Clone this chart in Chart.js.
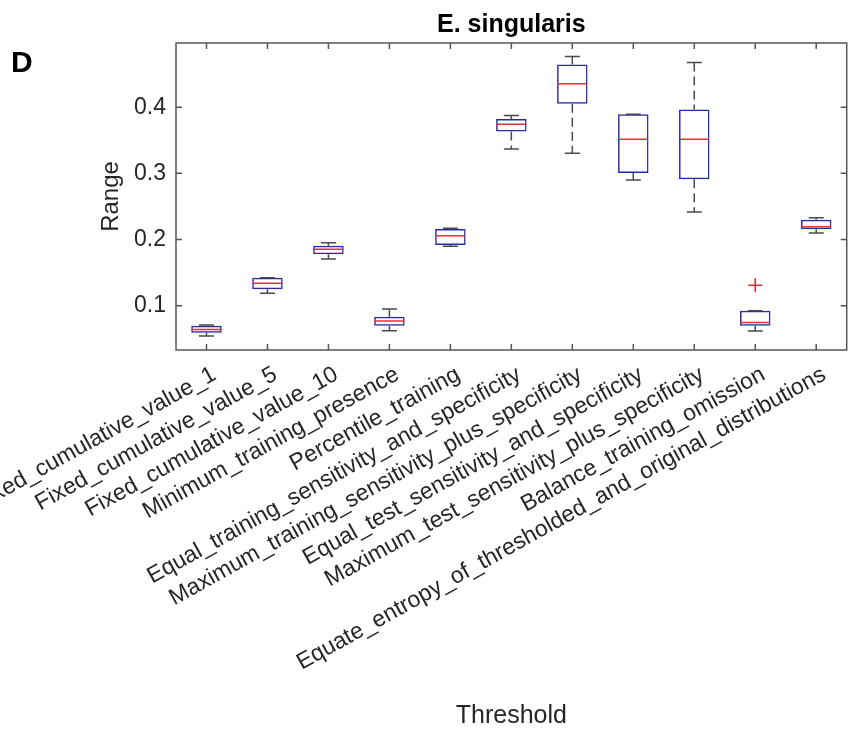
<!DOCTYPE html>
<html>
<head>
<meta charset="utf-8">
<script src="https://cdn.jsdelivr.net/npm/chart.js@4.4.1/dist/chart.umd.min.js"></script>
<style>
html,body{margin:0;padding:0;background:#fff;overflow:hidden;}
#wrap{width:851px;height:736px;position:relative;overflow:hidden;}
#c{display:block;}
</style>
</head>
<body>
<div id="wrap"><canvas id="c" width="863" height="736" style="width:863px;height:736px"></canvas></div>
<script>
// ---- data ----
const thresholds = [
  'Fixed_cumulative_value_1',
  'Fixed_cumulative_value_5',
  'Fixed_cumulative_value_10',
  'Minimum_training_presence',
  'Percentile_training',
  'Equal_training_sensitivity_and_specificity',
  'Maximum_training_sensitivity_plus_specificity',
  'Equal_test_sensitivity_and_specificity',
  'Maximum_test_sensitivity_plus_specificity',
  'Balance_training_omission',
  'Equate_entropy_of_thresholded_and_original_distributions'
];
const whiskerLow  = [0.0541, 0.1186, 0.1705, 0.0620, 0.1897, 0.3369, 0.3304, 0.2900, 0.2416, 0.0616, 0.2098];
const q1          = [0.0590, 0.1247, 0.1776, 0.0696, 0.1917, 0.3631, 0.4050, 0.3006, 0.2911, 0.0696, 0.2154];
const medians     = [0.0641, 0.1337, 0.1852, 0.0767, 0.2058, 0.3743, 0.4353, 0.3516, 0.3516, 0.0747, 0.2194];
const q3          = [0.0696, 0.1422, 0.1906, 0.0833, 0.2159, 0.3823, 0.4645, 0.3894, 0.3964, 0.0923, 0.2300];
const whiskerHigh = [0.0706, 0.1422, 0.1952, 0.0949, 0.2169, 0.3873, 0.4766, 0.3894, 0.4675, 0.0923, 0.2330];
const outlierThresholds = ['Balance_training_omission'];
const outlierValues = [0.1307];
const yTickValues = [0.1, 0.2, 0.3, 0.4];
const yMin = 0.033, yMax = 0.497;
const chartTitle = 'E. singularis';
const panelLetter = 'D';
const xTitle = 'Threshold';
const yTitle = 'Range';

// ---- styles ----
const FONT = "'Liberation Sans', Arial, Helvetica, sans-serif";
const TEXT = '#262626';
const BOX = '#2a2aa6';
const MED = '#e8322f';
const WHISK = '#4a4a4a';

const whiskerData = [];
thresholds.forEach((t, i) => {
  whiskerData.push({x: t, y: whiskerHigh[i]}, {x: t, y: q3[i]}, {x: t, y: null});
  whiskerData.push({x: t, y: q1[i]}, {x: t, y: whiskerLow[i]}, {x: t, y: null});
});
const capData = [];
thresholds.forEach((t, i) => {
  capData.push({x: t, y: whiskerHigh[i]}, {x: t, y: whiskerLow[i]});
});

const frameTicks = {
  id: 'frameTicks',
  beforeDatasetsDraw(chart) {
    const {ctx, chartArea: a, scales} = chart;
    ctx.save();
    ctx.strokeStyle = '#555555';
    ctx.lineWidth = 1.5;
    ctx.strokeRect(a.left, a.top, a.right - a.left, a.bottom - a.top);
    const tl = 6;
    ctx.beginPath();
    thresholds.forEach((t, i) => {
      const x = scales.x.getPixelForValue(i);
      ctx.moveTo(x, a.bottom); ctx.lineTo(x, a.bottom - tl);
      ctx.moveTo(x, a.top); ctx.lineTo(x, a.top + tl);
    });
    yTickValues.forEach(v => {
      const y = scales.y.getPixelForValue(v);
      ctx.moveTo(a.left, y); ctx.lineTo(a.left + tl, y);
      ctx.moveTo(a.right, y); ctx.lineTo(a.right - tl, y);
    });
    ctx.stroke();
    ctx.restore();
  },
  afterDraw(chart) {
    const ctx = chart.ctx;
    ctx.save();
    ctx.fillStyle = '#000';
    ctx.font = 'bold 30px ' + FONT;
    ctx.textBaseline = 'alphabetic';
    ctx.textAlign = 'left';
    ctx.fillText(panelLetter, 11, 72);
    ctx.restore();
  }
};

new Chart(document.getElementById('c'), {
  type: 'bar',
  data: {
    labels: thresholds,
    datasets: [
      {
        type: 'line',
        data: whiskerData,
        borderColor: WHISK,
        borderWidth: 1.5,
        borderDash: [9, 5],
        pointRadius: 0,
        spanGaps: false,
        fill: false,
        order: 3
      },
      {
        type: 'bar',
        data: thresholds.map((t, i) => [q1[i], q3[i]]),
        backgroundColor: 'rgba(0,0,0,0)',
        borderColor: BOX,
        borderWidth: 1.5,
        borderSkipped: false,
        barPercentage: 0.5,
        categoryPercentage: 1.0,
        order: 2
      },
      {
        type: 'line',
        data: capData,
        showLine: false,
        pointStyle: 'line',
        pointRadius: 7.5,
        pointBorderColor: WHISK,
        pointBorderWidth: 1.5,
        order: 1
      },
      {
        type: 'line',
        data: thresholds.map((t, i) => ({x: t, y: medians[i]})),
        showLine: false,
        pointStyle: 'line',
        pointRadius: 14.8,
        pointBorderColor: MED,
        pointBorderWidth: 1.5,
        order: 0
      },
      {
        type: 'line',
        data: outlierThresholds.map((t, i) => ({x: t, y: outlierValues[i]})),
        showLine: false,
        pointStyle: 'cross',
        pointRadius: 7,
        pointBorderColor: '#c8302f',
        pointBorderWidth: 1.5,
        order: 0
      }
    ]
  },
  options: {
    responsive: false,
    animation: false,
    devicePixelRatio: 1,
    layout: {padding: {left: 0, right: 4, top: 0, bottom: 0}},
    plugins: {
      legend: {display: false},
      tooltip: {enabled: false},
      title: {
        display: true,
        text: chartTitle,
        fullSize: false,
        color: '#000',
        font: {family: FONT, size: 25, weight: 'bold'},
        padding: {top: 10, bottom: 3}
      }
    },
    scales: {
      x: {
        type: 'category',
        offset: true,
        grid: {display: false, drawTicks: false},
        border: {display: false},
        ticks: {
          autoSkip: false,
          maxRotation: 29,
          minRotation: 29,
          padding: 11,
          labelOffset: 8,
          color: TEXT,
          font: {family: FONT, size: 23}
        },
        title: {
          display: true,
          text: xTitle,
          color: TEXT,
          font: {family: FONT, size: 25},
          padding: {top: 0, bottom: 5}
        },
        afterFit(s) { s.height = 386; s.paddingLeft = 0; s.paddingRight = 0; }
      },
      y: {
        type: 'linear',
        min: yMin,
        max: yMax,
        afterBuildTicks(s) { s.ticks = yTickValues.map(v => ({value: v})); },
        grid: {display: false, drawTicks: false},
        border: {display: false},
        ticks: {
          padding: 10,
          color: TEXT,
          font: {family: FONT, size: 23},
          callback: v => v.toFixed(1)
        },
        title: {
          display: true,
          text: yTitle,
          color: TEXT,
          font: {family: FONT, size: 24},
          padding: {top: 97, bottom: 0}
        },
        afterFit(s) { s.width = 176; s.paddingTop = 0; s.paddingBottom = 0; }
      }
    }
  },
  plugins: [frameTicks]
});
</script>
</body>
</html>
